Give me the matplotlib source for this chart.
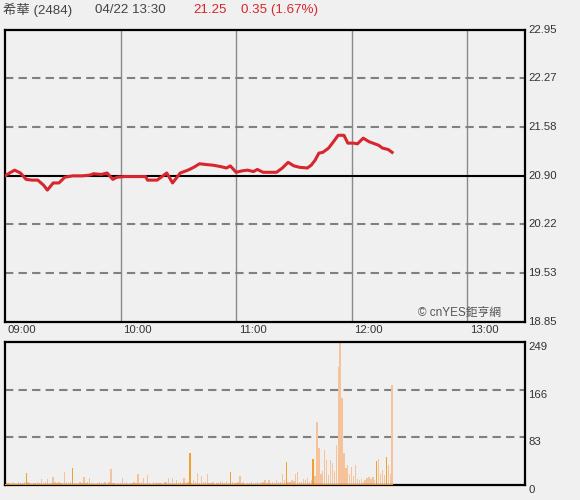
#intraday price + volume panel, 希華 (2484)
import numpy as np
import matplotlib as mpl
mpl.use('Agg')
import matplotlib.pyplot as plt

FONT = ['Liberation Sans', 'Noto Sans CJK TC', 'DejaVu Sans']
mpl.rcParams['font.family'] = FONT

ref_price = 20.90
price_ticks = [22.95, 22.27, 21.58, 20.90, 20.22, 19.53, 18.85]
vol_ticks = [249, 166, 83, 0]
hour_labels = ['09:00', '10:00', '11:00', '12:00', '13:00']

# minutes after 09:00, price
price_min = [0, 3, 5, 8, 11, 14, 17, 20, 22, 25, 28, 31, 35, 40, 44, 46, 50, 53,
             56, 58, 62, 66, 70, 73, 74, 79, 82, 84, 87, 91, 95, 98, 101, 104, 108,
             112, 115, 117, 120, 123, 126, 129, 131, 134, 138, 141, 144, 147, 150,
             153, 157, 159, 161, 163, 165, 168, 170, 173, 176, 178, 181, 183, 186,
             189, 192, 194, 196, 199, 201]
price = [20.90, 20.95, 20.98, 20.94, 20.85, 20.84, 20.84, 20.77, 20.70, 20.80,
         20.80, 20.88, 20.90, 20.90, 20.91, 20.93, 20.92, 20.94, 20.85, 20.88,
         20.89, 20.89, 20.89, 20.89, 20.84, 20.84, 20.90, 20.94, 20.80, 20.94,
         20.98, 21.02, 21.07, 21.06, 21.05, 21.03, 21.01, 21.04, 20.95, 20.97,
         20.98, 20.96, 20.99, 20.95, 20.95, 20.95, 21.01, 21.09, 21.04, 21.02,
         21.01, 21.05, 21.12, 21.22, 21.23, 21.29, 21.36, 21.47, 21.47, 21.36,
         21.36, 21.35, 21.43, 21.38, 21.35, 21.33, 21.29, 21.27, 21.23]

# volume per minute from 09:00
volume = [23, 4, 3, 2, 5, 3, 2, 6, 3, 4,
          5, 21, 6, 3, 2, 4, 3, 5, 4, 10,
          3, 5, 10, 4, 3, 14, 5, 3, 6, 4,
          3, 23, 5, 4, 6, 30, 4, 3, 2, 5,
          4, 14, 3, 5, 12, 3, 4, 2, 3, 5,
          4, 3, 6, 2, 5, 28, 3, 4, 2, 3,
          4, 12, 3, 5, 2, 4, 3, 5, 4, 19,
          3, 5, 12, 4, 17, 3, 2, 5, 3, 4,
          3, 4, 2, 5, 6, 12, 3, 12, 4, 9,
          3, 5, 4, 12, 3, 6, 56, 4, 8, 5,
          21, 4, 15, 5, 6, 19, 4, 3, 5, 2,
          4, 3, 7, 5, 3, 7, 4, 23, 5, 3,
          4, 6, 16, 3, 5, 2, 4, 3, 6, 2,
          3, 5, 2, 4, 6, 9, 3, 9, 4, 5,
          3, 9, 5, 6, 20, 8, 40, 5, 6, 9,
          7, 20, 23, 5, 6, 10, 8, 12, 6, 9,
          46, 15, 110, 64, 20, 25, 61, 44, 18, 44,
          38, 25, 70, 206, 249, 151, 55, 30, 35, 20,
          32, 15, 35, 10, 8, 10, 6, 9, 12, 14,
          10, 14, 9, 41, 46, 20, 26, 18, 49, 35,
          20, 174]
dark_bars = [0, 11, 35, 96, 117, 146, 160, 193, 198]

bg = '#f0f0f0'
fig = plt.figure(figsize=(5.8, 5.0), dpi=100, facecolor=bg)
ax = fig.add_axes([5/580, 1-321.7/500, 520/580, 291.7/500], facecolor=bg)
axv = fig.add_axes([5/580, 1-485/500, 520/580, 143/500], facecolor=bg)

# ---- price panel
for h in range(1, 5):
    ax.axvline(h*60, color='#8a8a8a', lw=1, zorder=1)
for p in price_ticks[1:-1]:
    if p == ref_price:
        ax.axhline(p, color='black', lw=1.5, zorder=2)
    else:
        ax.axhline(p, color='#808080', lw=1.5, ls=(0, (4, 2.5)), zorder=1)
ax.plot(price_min, price, color='#d7262d', lw=2.2, zorder=3)
ax.set_xlim(0, 270)
ax.set_ylim(price_ticks[-1], price_ticks[0])
ax.set_xticks([])
ax.set_yticks([])
for s in ax.spines.values():
    s.set_linewidth(1.6)
for p in price_ticks:
    ax.text(1.006, (p-price_ticks[-1])/(price_ticks[0]-price_ticks[-1]), '%.2f' % p,
            transform=ax.transAxes, ha='left', va='center', fontsize=8.2, color='#333333')
for i, lab in enumerate(hour_labels):
    ax.text(i*60+1.5, -0.012, lab, transform=ax.get_xaxis_transform(),
            ha='left', va='top', fontsize=8.2, color='#333333')
ax.text(0.954, 0.008, '© cnYES鉅亨網', transform=ax.transAxes, ha='right', va='bottom',
        fontsize=8.5, color='#555555')

# ---- volume panel
for v in vol_ticks[1:-1]:
    axv.axhline(v, color='#808080', lw=1.5, ls=(0, (4, 2.5)), zorder=1)
mins = np.arange(len(volume))
cols = ['#f0a030' if m in dark_bars else '#f6c29a' for m in mins]
axv.bar(mins, volume, width=0.7, color=cols, lw=0, antialiased=False, zorder=2)
axv.plot([0, len(volume)-1], [0.8, 0.8], color='#e89830', lw=1.5, zorder=3)
axv.set_xlim(0, 270)
axv.set_ylim(0, 249)
axv.set_xticks([])
axv.set_yticks([])
for s in axv.spines.values():
    s.set_linewidth(1.6)
for v in vol_ticks:
    axv.text(1.006, v/249, str(v), transform=axv.transAxes, ha='left', va='top',
             fontsize=8.2, color='#333333')

# ---- header
fig.text(3/580, 1-10/500, '希華 (2484)', ha='left', va='center', fontsize=9.6, color='#444444')
fig.text(95/580, 1-10/500, '04/22 13:30', ha='left', va='center', fontsize=9.6, color='#444444')
fig.text(193/580, 1-10/500, '21.25', ha='left', va='center', fontsize=9.6, color='#d7262d')
fig.text(241/580, 1-10/500, '0.35 (1.67%)', ha='left', va='center', fontsize=9.6, color='#d7262d')

fig.savefig('out.png', dpi=100, facecolor=bg)
